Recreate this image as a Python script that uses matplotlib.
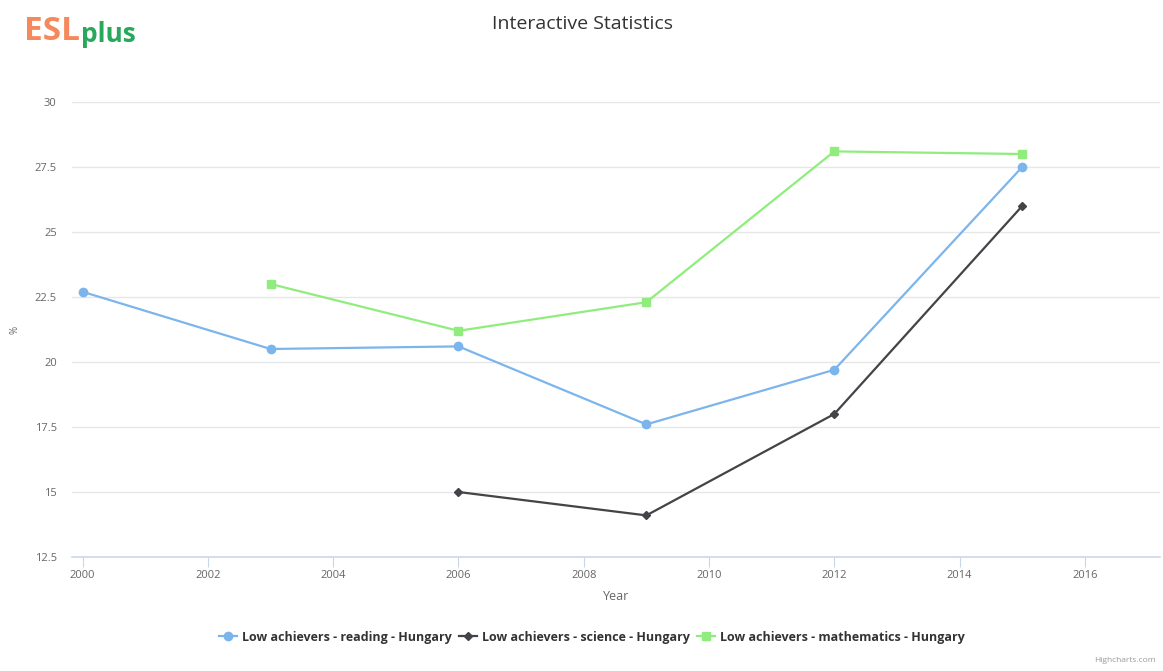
import matplotlib
matplotlib.use('Agg')
import matplotlib.pyplot as plt
from matplotlib.lines import Line2D

years_reading = [2000, 2003, 2006, 2009, 2012, 2015]
reading = [22.7, 20.5, 20.6, 17.6, 19.7, 27.5]
years_science = [2006, 2009, 2012, 2015]
science = [15.0, 14.1, 18.0, 26.0]
years_math = [2003, 2006, 2009, 2012, 2015]
math = [23.0, 21.2, 22.3, 28.1, 28.0]

x_ticks = list(range(2000, 2017, 2))
y_ticks = [12.5, 15, 17.5, 20, 22.5, 25, 27.5, 30]
labels = ['Low achievers - reading - Hungary',
          'Low achievers - science - Hungary',
          'Low achievers - mathematics - Hungary']
colors = ['#7cb5ec', '#434348', '#90ed7d']

plt.rcParams['font.family'] = ['Open Sans', 'DejaVu Sans']

fig = plt.figure(figsize=(11.63, 6.71), dpi=100)
ax = fig.add_axes([72/1163, 1 - 557/671, (1160-72)/1163, (557-102)/671])

LW = 1.6
ax.plot(years_reading, reading, color=colors[0], lw=LW, marker='o', ms=6)
ax.plot(years_science, science, color=colors[1], lw=LW, marker='D', ms=4.2)
ax.plot(years_math, math, color=colors[2], lw=LW, marker='s', ms=5.5)

ax.set_xlim(1999.83, 2017.2)
ax.set_ylim(12.5, 30)
ax.set_xticks(x_ticks)
ax.set_yticks(y_ticks)
ax.set_yticklabels([f'{v:g}' for v in y_ticks])
ax.grid(axis='y', color='#e6e6e6', lw=1)
ax.set_axisbelow(True)
for s in ['top', 'right', 'left']:
    ax.spines[s].set_visible(False)
ax.spines['bottom'].set_color('#ccd6eb')
ax.spines['bottom'].set_linewidth(1.2)
ax.tick_params(axis='y', length=0, labelsize=8, labelcolor='#666666', pad=11)
ax.tick_params(axis='x', length=7, color='#ccd6eb', labelsize=8, labelcolor='#666666', pad=2)
ax.set_xlabel('Year', fontsize=9, color='#666666', labelpad=7)
fig.text(15/1163, 1 - 330/671, '%', rotation=90, fontsize=7, color='#666666', ha='center', va='center')

fig.text(583/1163, 1 - 24/671, 'Interactive Statistics', fontsize=14, color='#333333', ha='center', va='center')

# logo
fig.text(24/1163, 1 - 32/671, 'ESL', fontsize=24, fontweight='bold', color='#f5895b',
         ha='left', va='center', fontstretch='condensed')
fig.text(81/1163, 1 - 35/671, 'plus', fontsize=19, fontweight='bold', color='#27a85a',
         ha='left', va='center')

handles = [
    Line2D([], [], color=colors[0], lw=LW, marker='o', ms=6),
    Line2D([], [], color=colors[1], lw=LW, marker='D', ms=4.2),
    Line2D([], [], color=colors[2], lw=LW, marker='s', ms=5.5),
]
fig.legend(handles, labels, loc='center', bbox_to_anchor=(592/1163, 1 - 637/671), ncol=3,
           frameon=False, handlelength=1.4, handletextpad=0.4, columnspacing=0.6,
           prop={'size': 9, 'weight': 'bold'}, labelcolor='#333333')

fig.text(1156/1163, 1 - 661/671, 'Highcharts.com', fontsize=6, color='#999999', ha='right', va='center')

fig.savefig('out.png', dpi=100, facecolor='white')
